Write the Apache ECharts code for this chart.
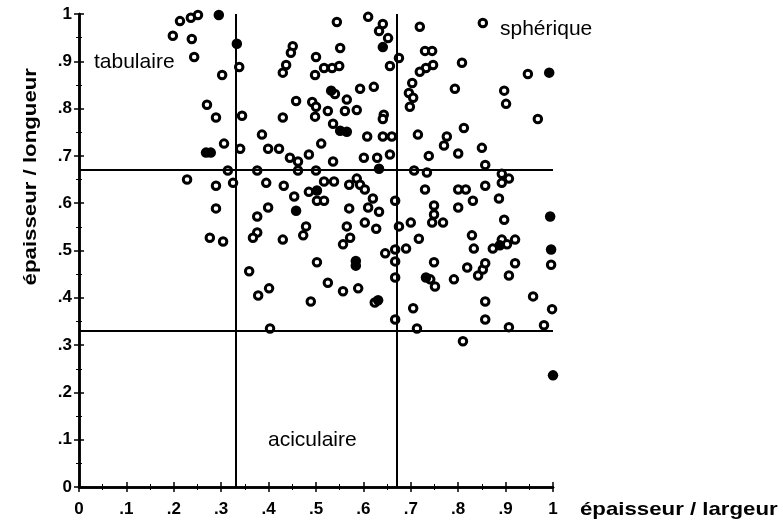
<!DOCTYPE html>
<html>
<head>
<meta charset="utf-8">
<script src="https://cdn.jsdelivr.net/npm/echarts@6/dist/echarts.min.js"></script>
<style>
html,body{margin:0;padding:0;background:#fff;}
#chart{width:783px;height:527px;}
</style>
</head>
<body>
<div id="chart"></div>
<script>
// x = épaisseur / largeur, y = épaisseur / longueur (hollow circles)
const hollowX = [0.198,0.213,0.236,0.251,0.238,0.243,0.338,0.302,0.270,0.289,0.344,0.306,0.340,0.314,0.228,0.289,0.325,0.289,0.276,0.304,
0.544,0.451,0.447,0.437,0.430,0.500,0.517,0.534,0.549,0.498,0.551,0.458,0.492,0.500,0.540,0.565,0.593,0.622,0.525,0.561,
0.586,0.430,0.498,0.536,0.610,0.641,0.633,0.652,0.675,0.656,0.643,0.641,0.386,0.399,0.422,0.445,0.462,0.485,0.511,0.536,
0.608,0.641,0.660,0.601,0.629,0.656,0.376,0.395,0.432,0.462,0.500,0.517,0.538,0.485,0.502,0.517,0.454,0.399,0.376,0.376,
0.367,0.430,0.473,0.479,0.570,0.586,0.593,0.603,0.620,0.610,0.633,0.570,0.565,0.603,0.627,0.572,0.557,0.359,0.502,0.525,
0.557,0.589,0.378,0.401,0.489,0.403,0.624,0.667,0.667,0.667,0.667,0.667,
0.719,0.730,0.745,0.747,0.732,0.719,0.703,0.696,0.705,0.698,0.808,0.793,0.852,0.947,0.897,0.901,0.968,0.812,0.776,0.770,
0.800,0.850,0.857,0.738,0.715,0.707,0.734,0.892,0.892,0.907,0.857,0.730,0.800,0.816,0.831,0.886,0.749,0.749,0.745,0.768,
0.800,0.897,0.700,0.675,0.717,0.829,0.892,0.920,0.833,0.873,0.903,0.646,0.690,0.749,0.741,0.751,0.791,0.819,0.842,0.852,
0.857,0.920,0.907,0.705,0.713,0.857,0.857,0.958,0.907,0.981,0.810,0.996,0.998];
const hollowY = [0.954,0.985,0.992,0.998,0.947,0.909,0.888,0.871,0.808,0.781,0.785,0.726,0.715,0.669,0.650,0.637,0.643,0.589,0.527,0.519,
0.983,0.932,0.918,0.892,0.876,0.909,0.886,0.886,0.890,0.871,0.928,0.816,0.814,0.804,0.831,0.819,0.842,0.846,0.795,0.795,
0.797,0.781,0.783,0.768,0.994,0.979,0.964,0.949,0.907,0.890,0.787,0.778,0.745,0.715,0.715,0.696,0.688,0.703,0.726,0.688,
0.741,0.741,0.741,0.696,0.696,0.703,0.669,0.643,0.637,0.669,0.669,0.646,0.646,0.624,0.605,0.605,0.614,0.591,0.572,0.538,
0.527,0.523,0.532,0.551,0.639,0.652,0.639,0.629,0.610,0.591,0.582,0.589,0.551,0.559,0.546,0.527,0.513,0.456,0.475,0.432,
0.414,0.420,0.405,0.420,0.392,0.335,0.390,0.605,0.502,0.477,0.443,0.354,
0.973,0.922,0.922,0.892,0.886,0.878,0.854,0.833,0.823,0.804,0.897,0.842,0.981,0.873,0.838,0.810,0.778,0.759,0.741,0.722,
0.705,0.717,0.681,0.700,0.745,0.669,0.665,0.662,0.643,0.652,0.637,0.629,0.629,0.629,0.605,0.610,0.595,0.576,0.559,0.559,
0.591,0.565,0.559,0.551,0.525,0.532,0.523,0.523,0.504,0.504,0.513,0.494,0.504,0.475,0.439,0.424,0.439,0.464,0.447,0.460,
0.473,0.473,0.447,0.378,0.335,0.392,0.354,0.403,0.338,0.342,0.308,0.470,0.376];
// overlapping points that print as solid dots
const solidX = [0.295,0.333,0.268,0.278,0.532,0.641,0.551,0.565,0.633,0.502,0.458,0.584,0.584,0.631,0.992,0.994,0.888,0.732,0.996,1.000];
const solidY = [0.998,0.937,0.707,0.707,0.838,0.930,0.753,0.751,0.673,0.627,0.584,0.478,0.468,0.395,0.876,0.572,0.511,0.443,0.502,0.236];
// tick labels and dividing lines
const tickLabels = ['0','.1','.2','.3','.4','.5','.6','.7','.8','.9','1'];
const vLines = [0.334, 0.667];
const hLines = [0.330, 0.673];
const zoneLabels = ['tabulaire','sphérique','aciculaire'];
const xName = 'épaisseur / largeur';
const yName = 'épaisseur / longueur';

const hollowData = hollowX.map((x,i)=>[x,hollowY[i]]);
const solidData = solidX.map((x,i)=>[x,solidY[i]]);
const fmt = v => tickLabels[Math.round(v*10)];
const FONT = 'Liberation Sans, Arial, sans-serif';
const axisCommon = {
  type:'value', min:0, max:1, interval:0.1,
  axisLine:{show:true, lineStyle:{color:'#000', width:2.5}},
  axisTick:{show:true, inside:false, length:5, lineStyle:{color:'#000', width:1.5}},
  minorTick:{show:true, splitNumber:2, length:3, lineStyle:{color:'#000', width:1}},
  splitLine:{show:false}
};
const labelStyle = {formatter:fmt, color:'#000', fontSize:17, fontWeight:'bold', fontFamily:FONT};
const chart = echarts.init(document.getElementById('chart'));
chart.setOption({
  animation:false,
  backgroundColor:'#fff',
  grid:{left:79, right:230, top:14, bottom:40},
  xAxis:[
    Object.assign({}, axisCommon, {position:'bottom', axisLabel:Object.assign({margin:14}, labelStyle)}),
    Object.assign({}, axisCommon, {position:'top', axisLabel:{show:false}})
  ],
  yAxis:[
    Object.assign({}, axisCommon, {position:'left', axisLabel:Object.assign({margin:7}, labelStyle)}),
    Object.assign({}, axisCommon, {position:'right', axisLabel:{show:false}})
  ],
  series:[
    {type:'scatter', data:hollowData, symbol:'circle', symbolSize:7.5,
     itemStyle:{color:'#fff', borderColor:'#000', borderWidth:3, opacity:1},
     markLine:{silent:true, symbol:'none', label:{show:false},
       lineStyle:{color:'#000', width:2, type:'solid'},
       data: vLines.map(v=>({xAxis:v})).concat(hLines.map(v=>({yAxis:v})))},
     z:3},
    {type:'scatter', data:solidData, symbol:'circle', symbolSize:10.5,
     itemStyle:{color:'#000', opacity:1}, z:4}
  ],
  graphic:[
    {type:'text', left:94, top:52, style:{text:zoneLabels[0], font:'21px '+FONT, fill:'#000'}},
    {type:'text', left:500, top:19, style:{text:zoneLabels[1], font:'21px '+FONT, fill:'#000'}},
    {type:'text', left:268, top:430, style:{text:zoneLabels[2], font:'21px '+FONT, fill:'#000'}},
    {type:'text', left:580, top:500, scaleX:1.17, style:{text:xName, font:'bold 19px '+FONT, fill:'#000'}},
    {type:'text', left:21, top:68, rotation:Math.PI/2, scaleX:1.17,
     style:{text:yName, font:'bold 19px '+FONT, fill:'#000'}}
  ]
});
</script>
</body>
</html>
